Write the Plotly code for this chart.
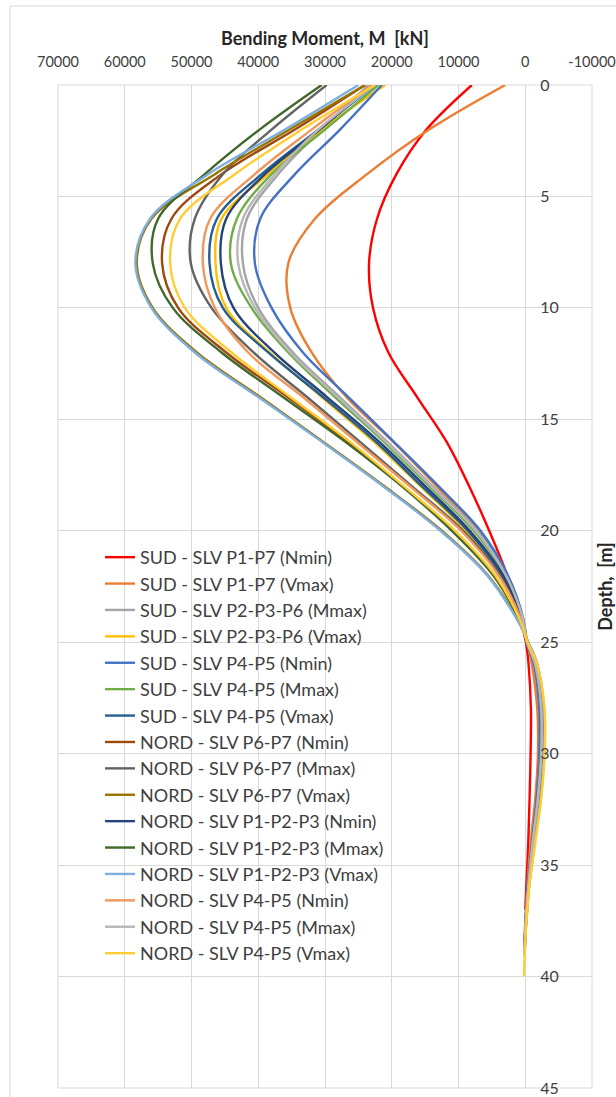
import plotly.graph_objects as go

# ---------------- data ----------------
depth = [0, 2, 4, 6, 8, 10, 12, 14, 16, 18, 20, 22, 24, 25, 26, 28, 30, 32, 34, 36, 37, 38, 39, 40]

series_names = [
    "SUD - SLV P1-P7 (Nmin)",
    "SUD - SLV P1-P7 (Vmax)",
    "SUD - SLV P2-P3-P6 (Mmax)",
    "SUD - SLV P2-P3-P6 (Vmax)",
    "SUD - SLV P4-P5 (Nmin)",
    "SUD - SLV P4-P5 (Mmax)",
    "SUD - SLV P4-P5 (Vmax)",
    "NORD - SLV P6-P7 (Nmin)",
    "NORD - SLV P6-P7 (Mmax)",
    "NORD - SLV P6-P7 (Vmax)",
    "NORD - SLV P1-P2-P3 (Nmin)",
    "NORD - SLV P1-P2-P3 (Mmax)",
    "NORD - SLV P1-P2-P3 (Vmax)",
    "NORD - SLV P4-P5 (Nmin)",
    "NORD - SLV P4-P5 (Mmax)",
    "NORD - SLV P4-P5 (Vmax)",
]

m_sud_p1p7_nmin = [8000, 14800, 19300, 22200, 23400, 22800, 20500, 16200, 11800, 8400, 5400, 2700, 700, -100, -500, -850, -800, -650, -450, -150, 0, None, None, None]
m_sud_p1p7_vmax = [3000, 14400, 23700, 31500, 35500, 35200, 32000, 26800, 19800, 13300, 7000, 2900, 300, -300, -1000, -1800, -1900, -1500, -800, -300, -100, 50, 120, None]
m_sud_p2p3p6_mmax = [23500, 30500, 37000, 41700, 42300, 40000, 34800, 27800, 20700, 13900, 7200, 2800, 300, -250, -1500, -2400, -2400, -1900, -1100, -450, -180, 0, 150, None]
m_sud_p2p3p6_vmax = [21000, 30500, 38500, 45500, 46400, 44800, 38300, 30500, 22700, 15700, 8900, 3800, 550, -350, -1800, -2800, -2800, -2300, -1400, -550, -280, -50, 120, None]
m_sud_p4p5_nmin = [21500, 27750, 34500, 39700, 40500, 38000, 33300, 26500, 19700, 13000, 6700, 2600, 250, -200, -1300, -2100, -2100, -1700, -1000, -350, -120, 50, 150, None]
m_sud_p4p5_mmax = [22000, 30000, 38000, 43200, 44100, 41000, 35500, 28500, 21200, 14400, 7700, 3000, 350, -250, -1500, -2400, -2400, -1900, -1100, -450, -180, 0, 150, None]
m_sud_p4p5_vmax = [22500, 31000, 39500, 46200, 47300, 45300, 38500, 30300, 22400, 15500, 8600, 3500, 450, -250, -1500, -2400, -2400, -1900, -1100, -450, -180, 0, 150, None]
m_nord_p6p7_nmin = [24000, 34500, 45500, 53000, 54400, 52000, 44800, 35600, 26600, 18400, 10700, 4700, 850, -350, -1700, -2600, -2600, -2100, -1300, -500, -220, -20, 130, None]
m_nord_p6p7_mmax = [29750, 38000, 45300, 49500, 50100, 47000, 40700, 32700, 24800, 17000, 9300, 3800, 600, -250, -1500, -2400, -2400, -1900, -1100, -450, -180, 0, 150, None]
m_nord_p6p7_vmax = [24000, 35300, 46500, 56000, 58200, 55800, 49200, 39700, 30300, 21100, 12500, 5600, 1100, -450, -1800, -2800, -2800, -2300, -1400, -550, -280, -50, 100, None]
m_nord_p1p2p3_nmin = [23000, 30800, 39000, 44800, 45600, 43700, 37600, 29700, 21900, 15000, 8300, 3300, 400, -250, -1500, -2400, -2400, -1900, -1100, -450, -180, 0, 150, None]
m_nord_p1p2p3_mmax = [30500, 39800, 48000, 55000, 55800, 52800, 45500, 36300, 27000, 18500, 11000, 4800, 900, -350, -1700, -2700, -2700, -2200, -1300, -500, -220, -30, 120, None]
m_nord_p1p2p3_vmax = [25000, 36000, 47500, 56200, 58400, 56000, 49500, 40000, 30500, 21300, 12700, 5700, 1200, -450, -1800, -2800, -2800, -2300, -1400, -550, -280, -50, 100, None]
m_nord_p4p5_nmin = [23000, 32000, 40500, 47200, 48300, 46500, 41500, 33300, 25300, 17300, 9600, 4000, 600, -250, -1500, -2400, -2400, -1900, -1100, -450, -180, 0, 150, None]
m_nord_p4p5_mmax = [22500, 31000, 37500, 42300, 43000, 40500, 35200, 28100, 20900, 14100, 7400, 2900, 300, -250, -1500, -2400, -2400, -1900, -1100, -450, -180, 0, 150, None]
m_nord_p4p5_vmax = [22500, 33500, 43500, 51700, 53200, 51000, 44000, 35200, 26300, 18200, 10500, 4500, 800, -350, -1800, -2900, -2900, -2400, -1500, -600, -320, -80, 80, 200]

series_values = [
    m_sud_p1p7_nmin, m_sud_p1p7_vmax, m_sud_p2p3p6_mmax, m_sud_p2p3p6_vmax,
    m_sud_p4p5_nmin, m_sud_p4p5_mmax, m_sud_p4p5_vmax,
    m_nord_p6p7_nmin, m_nord_p6p7_mmax, m_nord_p6p7_vmax,
    m_nord_p1p2p3_nmin, m_nord_p1p2p3_mmax, m_nord_p1p2p3_vmax,
    m_nord_p4p5_nmin, m_nord_p4p5_mmax, m_nord_p4p5_vmax,
]

colors = [
    "#FF0000", "#ED7D31", "#A5A5A5", "#FFC000", "#4472C4", "#70AD47", "#255E91",
    "#9E480E", "#636363", "#997300", "#264478", "#43682B", "#7CAFDD",
    "#F1975A", "#B7B7B7", "#FFCD33",
]

x_tickvals = [70000, 60000, 50000, 40000, 30000, 20000, 10000, 0, -10000]
x_ticktext = ["70000", "60000", "50000", "40000", "30000", "20000", "10000", "0", "-10000"]
y_tickvals = [0, 5, 10, 15, 20, 25, 30, 35, 40, 45]

# ---------------- figure ----------------
fig = go.Figure()
for name, vals, col in zip(series_names, series_values, colors):
    fig.add_trace(go.Scatter(
        x=vals, y=depth, name=name, mode="lines",
        line=dict(color=col, width=2.4, shape="spline", smoothing=1.0),
        connectgaps=False,
    ))

FONT = "Lato, 'Open Sans', sans-serif"
GRID = "#D9D9D9"

fig.update_layout(
    width=616, height=1097,
    margin=dict(l=58, r=24, t=85, b=9, autoexpand=False),
    paper_bgcolor="white", plot_bgcolor="white",
    font=dict(family=FONT, color="#404040"),
    showlegend=True,
    legend=dict(
        x=0.0787, y=0.5474, xanchor="left", yanchor="top",
        bgcolor="rgba(0,0,0,0)", font=dict(size=18, color="#404040", family=FONT),
        tracegroupgap=0, itemwidth=30,
    ),
    xaxis=dict(
        range=[70000, -10000], side="top", automargin=False,
        tickvals=x_tickvals, ticktext=x_ticktext,
        showgrid=True, gridcolor=GRID, gridwidth=1, zeroline=False,
        ticks="", tickfont=dict(size=14.5, color="#404040"),
        ticklabelstandoff=14, ticklabeloverflow="allow", showline=False,
        title=dict(text="<b>Bending Moment, M \u00a0[kN]</b>",
                   font=dict(size=18, color="#262626"), standoff=2),
    ),
    yaxis=dict(
        range=[45, 0], tickvals=y_tickvals, automargin=False,
        anchor="free", position=(0 - 70000) / (-10000 - 70000), side="right",
        showgrid=True, gridcolor=GRID, gridwidth=1, zeroline=False,
        ticks="", tickfont=dict(size=16, color="#404040"),
        ticklabelstandoff=14, ticklabeloverflow="allow", showline=False,
        title=dict(text="<b>Depth, \u00a0[m]</b>",
                   font=dict(size=18, color="#262626"), standoff=52),
    ),
    shapes=[
        dict(type="rect", xref="paper", yref="paper", x0=0, x1=1, y0=0, y1=1,
             line=dict(color=GRID, width=1), layer="below"),
        dict(type="rect", xref="paper", yref="paper", x0=-0.0899, x1=1.2, y0=-0.1, y1=1.0788,
             line=dict(color=GRID, width=1), layer="below"),
    ],
)

fig.write_html("out.html")
